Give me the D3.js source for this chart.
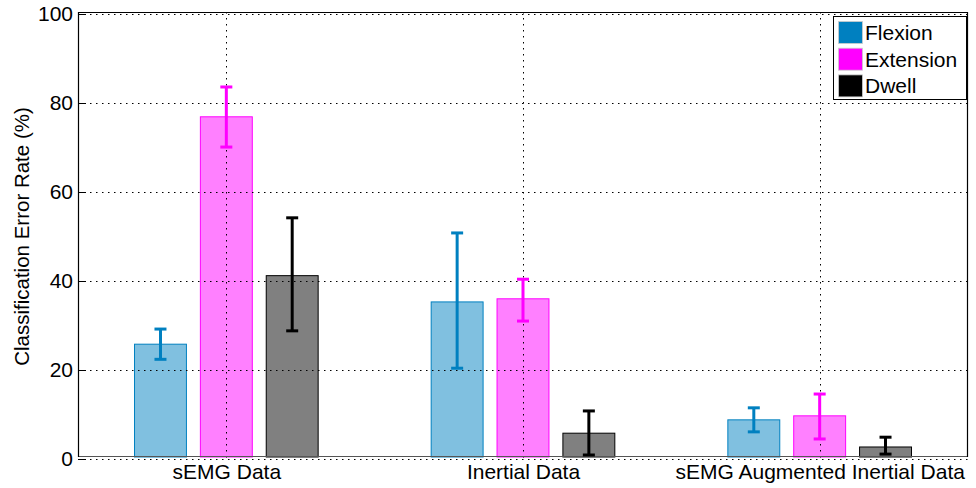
<!DOCTYPE html>
<html><head><meta charset="utf-8">
<script src="https://cdn.jsdelivr.net/npm/d3@7"></script>
<style>body{margin:0;background:#fff;}svg{display:block;font-family:"Liberation Sans",Arial,sans-serif;}</style>
</head><body>
<svg id="c" width="976" height="488"></svg>
<script>
const categories = ["sEMG Data", "Inertial Data", "sEMG Augmented Inertial Data"];
const seriesNames = ["Flexion", "Extension", "Dwell"];
const flexion = [25.8, 35.3, 8.8];
const extension = [76.9, 36.0, 9.7];
const dwell = [41.2, 5.8, 2.7];
const flexionErr = [[22.4, 29.2], [20.4, 50.8], [6.1, 11.5]];
const extensionErr = [[70.1, 83.6], [31.0, 40.4], [4.5, 14.6]];
const dwellErr = [[28.8, 54.2], [0.9, 10.8], [1.1, 4.9]];
const yTicks = [0, 20, 40, 60, 80, 100];

const colors = ["#0080C0", "#FF00FF", "#000000"];
const fills = ["#80C0E0", "#FF80FF", "#808080"];
const values = [flexion, extension, dwell];
const errs = [flexionErr, extensionErr, dwellErr];

const svg = d3.select("#c");
const L = 78, R = 968, T = 14, B = 459;
const x = d3.scaleLinear().domain([0.5, 3.5]).range([L, R]);
const y = d3.scaleLinear().domain([0, 100]).range([B, T]);
const offset = 0.222, bw = 0.175;

// bars
values.forEach((vals, s) => {
  const g = svg.append("g");
  vals.forEach((v, i) => {
    const cx = x(i + 1 + (s - 1) * offset);
    const w = x(bw) - x(0);
    g.append("rect").attr("x", cx - w / 2).attr("y", y(v)).attr("width", w).attr("height", y(0) - 2 - y(v))
      .attr("fill", fills[s]).attr("stroke", colors[s]).attr("stroke-width", 1);
  });
});

// grid (on top)
const grid = svg.append("g").attr("stroke", "#000").attr("stroke-width", 1).attr("stroke-dasharray", "1.5,4.5");
yTicks.forEach(t => grid.append("line").attr("x1", L).attr("x2", R).attr("y1", y(t) + 0.5).attr("y2", y(t) + 0.5));
categories.forEach((c, i) => grid.append("line").attr("x1", Math.round(x(i + 1)) + 0.5).attr("x2", Math.round(x(i + 1)) + 0.5).attr("y1", T - 2).attr("y2", B));

// baseline
svg.append("line").attr("x1", L).attr("x2", R).attr("y1", B - 2.5).attr("y2", B - 2.5).attr("stroke", "#555").attr("stroke-width", 1.2);

// error bars
values.forEach((vals, s) => {
  const g = svg.append("g").attr("stroke", colors[s]).attr("stroke-width", 3);
  vals.forEach((v, i) => {
    const cx = x(i + 1 + (s - 1) * offset);
    const [lo, hi] = errs[s][i];
    g.append("line").attr("x1", cx).attr("x2", cx).attr("y1", y(lo)).attr("y2", y(hi));
    g.append("line").attr("x1", cx - 6).attr("x2", cx + 6).attr("y1", y(lo)).attr("y2", y(lo));
    g.append("line").attr("x1", cx - 6).attr("x2", cx + 6).attr("y1", y(hi)).attr("y2", y(hi));
  });
});

// axes box
svg.append("path").attr("d", `M${L + 0.5},${B - 2} V${T - 2 + 0.5} H${R - 0.5} V${B - 2}`)
  .attr("fill", "none").attr("stroke", "#000").attr("stroke-width", 1.2);

// y axis ticks + labels
const yAxis = d3.axisLeft(y).tickValues(yTicks).tickSize(0).tickPadding(5);
const ya = svg.append("g").attr("transform", `translate(${L},0)`).call(yAxis);
ya.select(".domain").remove();
ya.selectAll("text").attr("font-size", 21).attr("font-family", "Liberation Sans, Arial, sans-serif").attr("fill", "#000");
yTicks.forEach(t => svg.append("line").attr("x1", L).attr("x2", L + 8).attr("y1", y(t) + 0.5).attr("y2", y(t) + 0.5).attr("stroke", "#000"));

// x axis labels
const xAxis = d3.axisBottom(x).tickValues([1, 2, 3]).tickFormat((d) => categories[d - 1]).tickSize(0).tickPadding(5);
const xa = svg.append("g").attr("transform", `translate(0,${B})`).call(xAxis);
xa.select(".domain").remove();
xa.selectAll("text").attr("font-size", 21).attr("font-family", "Liberation Sans, Arial, sans-serif").attr("fill", "#000");

// y label
svg.append("text").attr("transform", `translate(29,${(T + B) / 2}) rotate(-90)`).attr("text-anchor", "middle")
  .attr("font-size", 20.5).text("Classification Error Rate (%)");

// legend
const lg = svg.append("g");
lg.append("rect").attr("x", 833.5).attr("y", 16.5).attr("width", 133).attr("height", 83).attr("fill", "#fff").attr("stroke", "#000");
seriesNames.forEach((n, i) => {
  lg.append("rect").attr("x", 838.5).attr("y", 21.5 + i * 26.7).attr("width", 24).attr("height", 22)
    .attr("fill", colors[i]).attr("stroke", "#ccc").attr("stroke-width", 0.8);
  lg.append("text").attr("x", 865).attr("y", 40 + i * 26.7).attr("font-size", 21).text(n);
});
</script>
</body></html>
